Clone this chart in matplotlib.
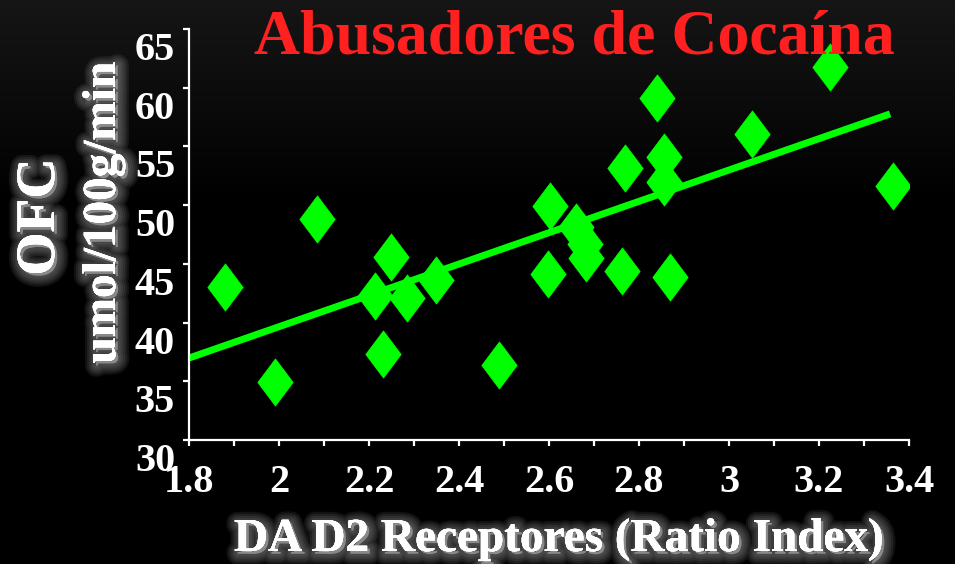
import numpy as np
import matplotlib
matplotlib.use("Agg")
import matplotlib.pyplot as plt
import matplotlib.patheffects as pe
from matplotlib.path import Path
from matplotlib.ticker import MultipleLocator
from matplotlib.transforms import ScaledTranslation

# D2 receptor availability vs. OFC metabolism, cocaine abusers
d2_ratio = [1.880, 1.991, 2.084, 2.213, 2.249, 2.231, 2.284, 2.349, 2.489,
            2.602, 2.598, 2.660, 2.680, 2.682, 2.769, 2.762, 2.840, 2.856,
            2.856, 2.869, 3.051, 3.224, 3.364]
ofc_rate = [43.0, 34.9, 48.8, 42.3, 45.6, 37.3, 42.1, 43.6, 36.4,
            49.9, 44.1, 48.1, 46.7, 45.5, 53.2, 44.4, 59.1, 54.1,
            52.0, 43.9, 56.1, 61.8, 51.6]

# regression line end points
fit_x = [1.8, 3.358]
fit_y = [36.98, 57.77]

x_ticks = [1.8, 2, 2.2, 2.4, 2.6, 2.8, 3, 3.2, 3.4]
y_ticks = [30, 35, 40, 45, 50, 55, 60, 65]

title = "Abusadores de Cocaína"
x_title = "DA D2 Receptores (Ratio Index)"
y_title = "OFC"
y_units = "umol/100g/min"

plt.rcParams['font.family'] = ['Liberation Serif', 'DejaVu Serif']
plt.rcParams['font.weight'] = 'bold'

fig = plt.figure(figsize=(9.55, 5.64), dpi=100)
fig.patch.set_facecolor('black')

# dark gradient at the top of the slide
bg = fig.add_axes([0, 0, 1, 1], zorder=-5)
rows = np.linspace(0, 1, 564)
shade = np.clip(0.085 * (1 - rows / 0.36), 0, None)
bg.imshow(np.repeat(shade[:, None], 4, axis=1), cmap='gray', vmin=0, vmax=1,
          aspect='auto', extent=[0, 1, 0, 1])
bg.set_axis_off()

ax = fig.add_axes([189 / 955, 1 - 440 / 564, 720 / 955, 411 / 564])
ax.set_facecolor('none')

diamond = Path([(0, 1), (0.75, 0), (0, -1), (-0.75, 0), (0, 1)],
               [Path.MOVETO, Path.LINETO, Path.LINETO, Path.LINETO, Path.CLOSEPOLY])

ax.plot(fit_x, fit_y, color='#00ff00', lw=5, solid_capstyle='butt', zorder=2)
ax.plot(d2_ratio, ofc_rate, ls='none', marker=diamond, ms=34,
        mfc='#00ff00', mec='#00ff00', mew=0.5, zorder=3)

ax.set_xlim(1.8, 3.4)
ax.set_ylim(30, 65)
ax.set_xticks(x_ticks)
ax.set_xticklabels([f"{v:g}" for v in x_ticks])
ax.xaxis.set_minor_locator(MultipleLocator(0.1))
ax.set_yticks(y_ticks)

for side in ('top', 'right'):
    ax.spines[side].set_visible(False)
for side in ('left', 'bottom'):
    ax.spines[side].set_color('white')
    ax.spines[side].set_linewidth(1.6)

ax.tick_params(axis='both', which='both', colors='white', direction='out',
               length=4, width=1.6)
ax.tick_params(axis='x', labelsize=29, pad=13)
ax.tick_params(axis='y', labelsize=29, pad=6)

shift = ScaledTranslation(0, -0.17, fig.dpi_scale_trans)
for lab in ax.get_yticklabels():
    lab.set_transform(lab.get_transform() + shift)

# soft grey halo behind the axis titles
glow = [pe.withStroke(linewidth=w, foreground='#b0b0b0', alpha=0.10, offset=(2, -2))
        for w in (16, 13, 10, 7, 4)] + [pe.Normal()]

fig.text(574 / 955, 1 - 53 / 564, title, color='#ff2020', fontsize=46,
         ha='center', va='baseline')
fig.text(559 / 955, 1 - 551 / 564, x_title, color='white', fontsize=34,
         ha='center', va='baseline', path_effects=glow)
fig.text(40 / 955, 1 - 217 / 564, y_title, color='white', fontsize=40,
         rotation=90, ha='center', va='center', path_effects=glow)
fig.text(104 / 955, 1 - 213 / 564, y_units, color='white', fontsize=34,
         rotation=90, ha='center', va='center', path_effects=glow)

fig.savefig('out.png', dpi=100, facecolor=fig.get_facecolor())
